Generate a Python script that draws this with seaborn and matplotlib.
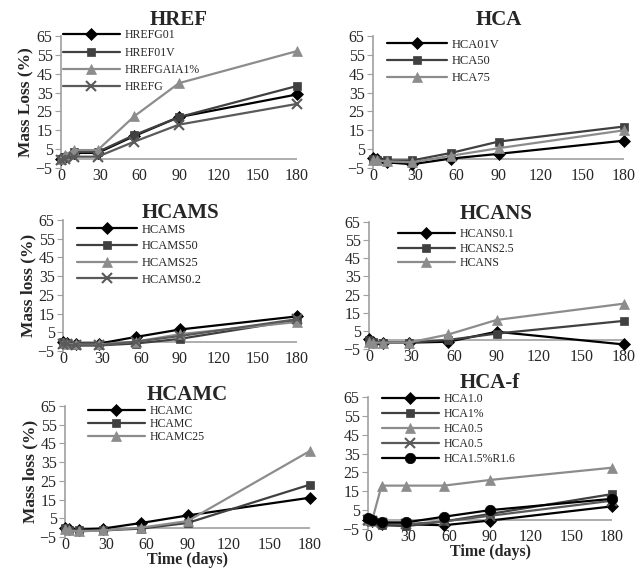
import matplotlib
matplotlib.use("Agg")
import matplotlib.pyplot as plt
import seaborn as sns
import pandas as pd

sns.set_style("white")
plt.rcParams['font.family'] = ['Liberation Serif', 'DejaVu Serif']

days = [0, 3, 10, 28, 56, 90, 180]

# HREF
href_names = ["HREFG01", "HREF01V", "HREFGAIA1%", "HREFG"]
href_g01 = [0, 1, 3, 3, 12, 22, 34]
href_01v = [0, 1, 3.5, 3.5, 12.5, 22, 38.5]
href_gaia = [0, 2, 4.5, 4.5, 22.5, 40, 57]
href_g = [-1, 0, 1, 1, 9, 18, 29]

# HCA
hca_names = ["HCA01V", "HCA50", "HCA75"]
hca_01v = [0.5, 0, -2, -3, 0, 2.5, 9.5]
hca_50 = [0, -0.5, -1, -1, 3, 9, 17]
hca_75 = [-0.5, -1, -1.5, -2, 1.5, 5.5, 15]

# HCAMS
hcams_names = ["HCAMS", "HCAMS50", "HCAMS25", "HCAMS0.2"]
hcams_a = [0, -0.5, -1, -1, 2.5, 6.5, 13.5]
hcams_50 = [0, -1, -2, -2, -1, 1.5, 11.5]
hcams_25 = [-0.5, -1, -1.5, -1.5, 0, 4, 10.5]
hcams_02 = [-1, -1.5, -2, -2, 0, 3, 12]

# HCANS
hcans_names = ["HCANS0.1", "HCANS2.5", "HCANS"]
hcans_01 = [0.5, -1, -1.5, -1.5, -1, 4.5, -2.5]
hcans_25 = [0, -1, -1.5, -1.5, 0, 3.5, 10.5]
hcans_a = [-1, -1.5, -1.5, -1.5, 3, 11, 20]

# HCAMC
hcamc_names = ["HCAMC", "HCAMC", "HCAMC25"]
hcamc_a = [0, -0.5, -1, -0.5, 2.5, 6.5, 16]
hcamc_b = [0, -1, -1.5, -1.5, -0.5, 2.5, 23]
hcamc_25 = [-0.5, -1.5, -2, -1.5, 0, 3.5, 41]

# HCA-f
hcaf_names = ["HCA1.0", "HCA1%", "HCA0.5", "HCA0.5", "HCA1.5%R1.6"]
hcaf_10 = [0, -1, -2.5, -2.5, -3, -0.5, 7]
hcaf_1p = [0, -1, -3, -3.5, -1, 3, 13.5]
hcaf_05a = [0, -0.5, 18, 18, 18, 21, 27.5]
hcaf_05b = [0, -1, -2, -2.5, -1, 2, 10]
hcaf_15 = [1, 0, -1.5, -1.5, 1.5, 5, 11]

BLACK, DARK, LIGHT, MID = "#000000", "#404040", "#8c8c8c", "#5a5a5a"
styles = {
    'D': dict(marker='D', color=BLACK, ms=6),
    's': dict(marker='s', color=DARK, ms=6),
    '^': dict(marker='^', color=LIGHT, ms=6.5),
    'x': dict(marker='x', color=MID, ms=6.5),
    'o': dict(marker='o', color=BLACK, ms=7.5),
}

W, H = 638, 568
fig = plt.figure(figsize=(W / 100, H / 100), dpi=100)

def add_ax(x0, x1, ytop, ybot):
    return fig.add_axes([x0 / W, 1 - ybot / H, (x1 - x0) / W, (ybot - ytop) / H])

# title, axes rect (px), names, series, markers, ylabel, xlabel,
# legend fontsize, legend line start x px, first row centre y px, row spacing px, title pad
panels = [
    ("HREF", (61, 297, 36, 168), href_names, [href_g01, href_01v, href_gaia, href_g], ['D', 's', '^', 'x'],
     "Mass Loss (%)", None, 8.5, 63, 36, 19, 8),
    ("HCA", (373, 624, 36, 168), hca_names, [hca_01v, hca_50, hca_75], ['D', 's', '^'],
     None, None, 9, 387, 46, 19, 8),
    ("HCAMS", (63, 297, 220, 351), hcams_names, [hcams_a, hcams_50, hcams_25, hcams_02], ['D', 's', '^', 'x'],
     "Mass loss (%)", None, 9, 77, 231, 19, 1.5),
    ("HCANS", (369, 624, 222, 349), hcans_names, [hcans_01, hcans_25, hcans_a], ['D', 's', '^'],
     None, None, 8.5, 398, 235, 16, 2),
    ("HCAMC", (65, 310, 406, 537), hcamc_names, [hcamc_a, hcamc_b, hcamc_25], ['D', 's', '^'],
     "Mass loss (%)", "Time (days)", 8.5, 88, 412, 14.5, 4),
    ("HCA-f", (368, 612, 397, 529), hcaf_names, [hcaf_10, hcaf_1p, hcaf_05a, hcaf_05b, hcaf_15], ['D', 's', '^', 'x', 'o'],
     None, "Time (days)", 8.5, 382, 400, 16.5, 6.5),
]

for (title, rect, names, series, marks, ylab, xlab, fs, lx, ly, rowsp, tpad) in panels:
    ax = add_ax(*rect)
    for name, vals, mk in zip(names, series, marks):
        st = styles[mk]
        df = pd.DataFrame({"day": days, "val": vals})
        sns.lineplot(data=df, x="day", y="val", ax=ax, color=st['color'], lw=1.6,
                     marker=st['marker'], markersize=st['ms'],
                     markeredgecolor=st['color'], markeredgewidth=1.5 if mk == 'x' else 0.5,
                     label=name, clip_on=False, zorder=3)
    ax.set_xlim(0, 180)
    ax.set_ylim(-5, 65)
    ax.set_xticks([0, 30, 60, 90, 120, 150, 180])
    ax.set_yticks(list(range(-5, 66, 10)))
    ax.axhline(0, color="#a0a0a0", lw=1.2, zorder=1)
    for sp in ['top', 'right', 'bottom']:
        ax.spines[sp].set_visible(False)
    ax.spines['left'].set_color("#a0a0a0")
    ax.spines['left'].set_linewidth(1.2)
    ax.tick_params(axis='y', length=4, color="#a0a0a0", labelsize=11.5, pad=2, left=True)
    ax.tick_params(axis='x', length=0, labelsize=11.5, pad=0)
    ax.set_title(title, fontsize=15, fontweight='bold', pad=tpad)
    ax.set_ylabel(ylab if ylab else "", fontsize=12.5, fontweight='bold', labelpad=1)
    ax.set_xlabel(xlab if xlab else "", fontsize=11.5, fontweight='bold', labelpad=-0.5)
    fs_px = fs * 100 / 72
    text_h = fs_px * 1.15
    lsp = max((rowsp - text_h) / fs_px, 0.05)
    x0, x1, ytop, ybot = rect
    ax_x = (lx - x0) / (x1 - x0)
    ax_y = (ybot - (ly - text_h / 2)) / (ybot - ytop)
    ax.legend(loc='upper left', bbox_to_anchor=(ax_x, ax_y), frameon=False,
              fontsize=fs, handlelength=4.8, handletextpad=0.4,
              labelspacing=lsp, borderaxespad=0, borderpad=0)

fig.savefig("out.png", dpi=100)
